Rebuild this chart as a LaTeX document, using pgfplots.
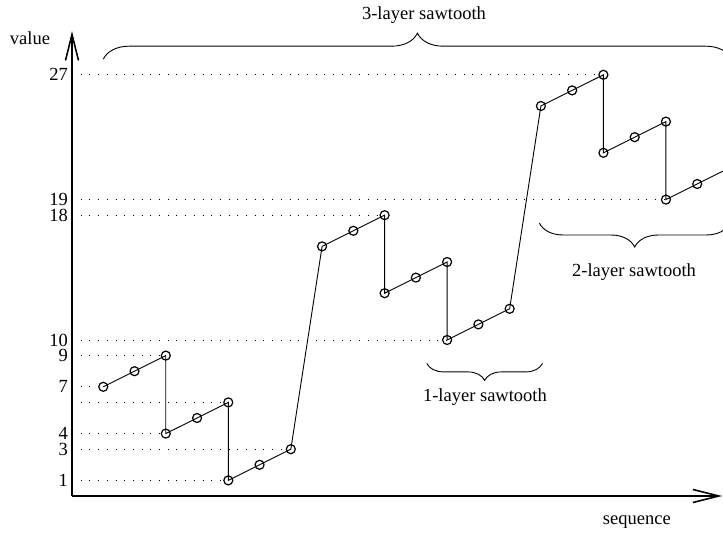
\documentclass[border=0pt]{standalone}
\usepackage{fontspec}
\setmainfont{Liberation Serif}
\usepackage{pgfplots}
\pgfplotsset{compat=1.18}
\usetikzlibrary{arrows.meta,decorations.pathreplacing}

\begin{document}
\begin{tikzpicture}[font=\fontsize{18.5bp}{22bp}\selectfont]
\useasboundingbox (0,0) rectangle (723bp,536bp);
\begin{axis}[
  at={(72bp,40bp)}, anchor=origin,
  x=31.26bp, y=15.6bp,
  xmin=0, xmax=20.8, ymin=0, ymax=29.8,
  axis lines=left,
  axis line style={line width=1.6bp, -{Straight Barb[length=26bp,width=13bp]}},
  xtick=\empty,
  ytick={1,3,4,7,9,10,18,19,27},
  major tick length=0pt,
  yticklabel style={inner xsep=0pt, inner ysep=0pt, xshift=-4bp},
  /pgf/number format/assume math mode=true,
  clip=false,
]
% guide lines
\addplot[black, line width=0.8bp, dash pattern=on 1bp off 7.7bp] coordinates {(0,27) (17,27)};
\addplot[black, line width=0.8bp, dash pattern=on 1bp off 7.7bp] coordinates {(0,19) (19,19)};
\addplot[black, line width=0.8bp, dash pattern=on 1bp off 7.7bp] coordinates {(0,18) (10,18)};
\addplot[black, line width=0.8bp, dash pattern=on 1bp off 7.7bp] coordinates {(0,10) (12,10)};
\addplot[black, line width=0.8bp, dash pattern=on 1bp off 7.7bp] coordinates {(0,9) (3,9)};
\addplot[black, line width=0.8bp, dash pattern=on 1bp off 7.7bp] coordinates {(0,7) (1,7)};
\addplot[black, line width=0.8bp, dash pattern=on 1bp off 7.7bp] coordinates {(0,6) (5,6)};
\addplot[black, line width=0.8bp, dash pattern=on 1bp off 7.7bp] coordinates {(0,4) (3,4)};
\addplot[black, line width=0.8bp, dash pattern=on 1bp off 7.7bp] coordinates {(0,3) (7,3)};
\addplot[black, line width=0.8bp, dash pattern=on 1bp off 7.7bp] coordinates {(0,1) (5,1)};
% the sawtooth sequence
\addplot[black, line width=0.9bp, mark=o, mark size=4.5bp, mark options={line width=1.2bp}] coordinates {
  (1,7) (2,8) (3,9) (3,4) (4,5) (5,6) (5,1) (6,2) (7,3)
  (8,16) (9,17) (10,18) (10,13) (11,14) (12,15) (12,10) (13,11) (14,12)
  (15,25) (16,26) (17,27) (17,22) (18,23) (19,24) (19,19) (20,20) (21,21)
};
% braces and labels
\draw[line width=0.9bp, decorate, decoration={brace, amplitude=26bp}] (axis cs:1,28) -- (axis cs:21.1,28);
\node at (axis cs:11.26,30.83) {3-layer sawtooth};
\draw[line width=0.9bp, decorate, decoration={brace, amplitude=24bp}] (axis cs:21.05,17.5) -- (axis cs:14.95,17.5);
\node at (axis cs:17.98,14.36) {2-layer sawtooth};
\draw[line width=0.9bp, decorate, decoration={brace, amplitude=17bp}] (axis cs:15.05,8.5) -- (axis cs:11.35,8.5);
\node at (axis cs:13.21,6.35) {1-layer sawtooth};
\node at (axis cs:-1.344,29.36) {value};
\node at (axis cs:18.07,-1.667) {sequence};
\end{axis}
\end{tikzpicture}
\end{document}
